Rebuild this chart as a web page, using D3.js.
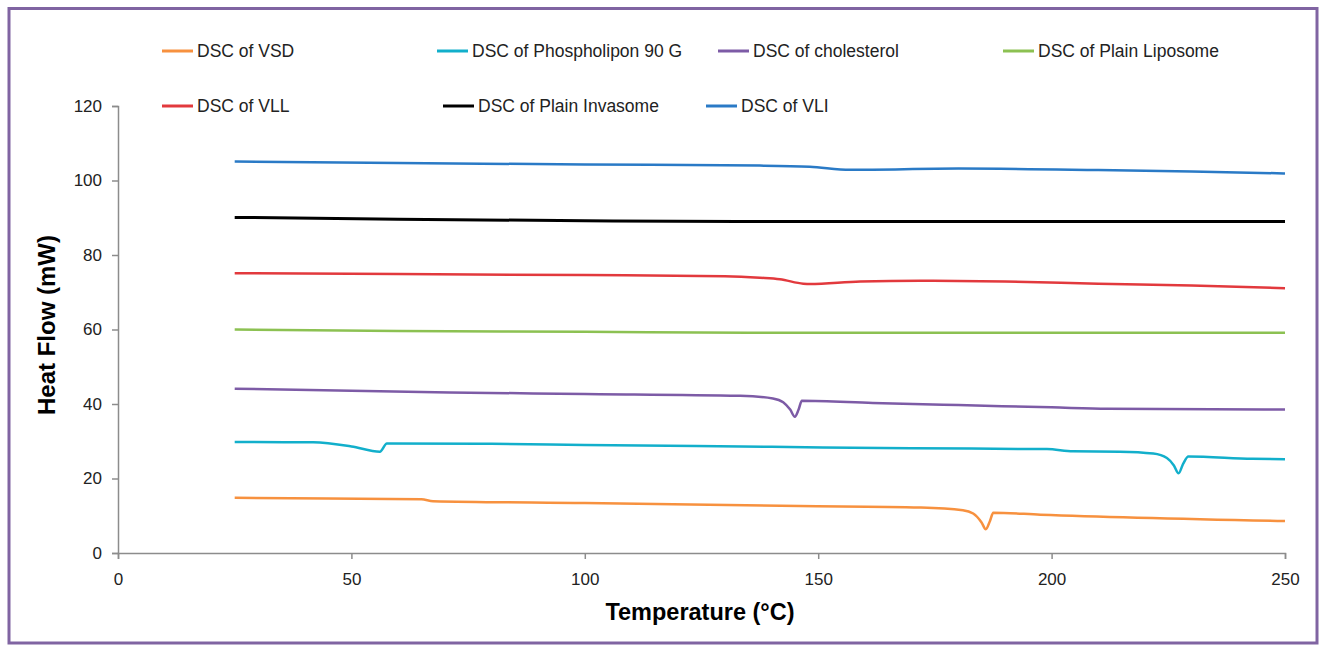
<!DOCTYPE html>
<html><head><meta charset="utf-8">
<script src="https://cdn.jsdelivr.net/npm/d3@7/dist/d3.min.js"></script>
<style>
html,body{margin:0;padding:0;background:#fff;}
svg{display:block;font-family:"Liberation Sans",Arial,sans-serif;}
</style></head>
<body><svg id="chart" width="1319" height="645"></svg>
<script>
// ---- data (temperature °C, heat flow mW) ----
const seriesNames = ["DSC of VSD","DSC of Phospholipon 90 G","DSC of cholesterol","DSC of Plain Liposome","DSC of VLL","DSC of Plain Invasome","DSC of VLI"];
const seriesColors = ["#F7913F","#12AFCB","#7D5BA6","#8CC152","#E2393D","#000000","#2A7AC6"];
const vsd = [[25,14.8],[45,14.6],[65,14.4],[67.5,13.9],[100,13.4],[146,12.6],[172,12.2],[181,11.5],[183.2,10.6],[185,8.2],[185.9,6.4],[186.8,8.6],[187.5,10.8],[197.6,10.3],[250,8.6]];
const phospholipon = [[25,29.8],[41.8,29.7],[50,28.6],[56.1,27.2],[57.6,29.4],[80,29.3],[100,29.0],[140,28.5],[170,28.1],[199,27.9],[204.6,27.3],[214.6,27.2],[221.8,26.7],[224.7,25.5],[226.2,23.5],[227.2,21.4],[228.2,24.0],[229.3,25.9],[243,25.3],[250,25.2]];
const cholesterol = [[25,44.1],[71,43.1],[100,42.7],[133.3,42.2],[140.3,41.5],[142.5,40.5],[144,38.5],[145,36.6],[145.8,38.5],[146.5,40.9],[161.7,40.3],[180,39.7],[200,39.1],[212,38.7],[250,38.5]];
const plainLiposome = [[25,60.0],[60,59.6],[100,59.4],[135,59.1],[250,59.1]];
const vll = [[25,75.1],[60,74.9],[100,74.6],[130,74.3],[137.5,73.9],[141.8,73.5],[146.8,72.3],[148.2,72.2],[159,72.9],[171.8,73.1],[190,72.9],[210,72.3],[230,71.8],[250,71.1]];
const plainInvasome = [[25,90.1],[60,89.6],[100,89.2],[133,89.0],[250,89.0]];
const vli = [[25,105.1],[60,104.7],[100,104.3],[137.5,104.0],[148.2,103.7],[156.8,102.9],[180,103.2],[210,102.8],[230,102.4],[250,101.9]];
const seriesData = [vsd, phospholipon, cholesterol, plainLiposome, vll, plainInvasome, vli];
const xTicks = [0,50,100,150,200,250];
const yTicks = [0,20,40,60,80,100,120];
const xTitle = "Temperature  (°C)";
const yTitle = "Heat Flow (mW)";

// ---- layout ----
const svg = d3.select("#chart");
svg.append("rect").attr("x",0).attr("y",0).attr("width",1319).attr("height",645).attr("fill","#fff");
svg.append("rect").attr("x",9).attr("y",8.5).attr("width",1308).attr("height",634.5)
  .attr("fill","none").attr("stroke","#8064A2").attr("stroke-width",3);

const x = d3.scaleLinear().domain([0,250]).range([118,1285]);
const y = d3.scaleLinear().domain([0,120]).range([553,106]);
const axisColor = "#8C8C8C";

const gx = svg.append("g").attr("transform",`translate(0,${y(0)})`)
  .call(d3.axisBottom(x).tickValues(xTicks).tickSize(6).tickPadding(14));
const gy = svg.append("g").attr("transform",`translate(${x(0)},0)`)
  .call(d3.axisLeft(y).tickValues(yTicks).tickSize(6).tickPadding(10));
[gx,gy].forEach(g=>{
  g.selectAll("path,line").attr("stroke",axisColor).attr("stroke-width",1.5);
  g.selectAll("text").attr("font-size",17).attr("fill","#222").attr("font-family","'Liberation Sans',Arial,sans-serif");
});

svg.append("text").attr("x",700).attr("y",620).attr("text-anchor","middle")
  .attr("font-size",23.5).attr("font-weight","bold").attr("fill","#000").text(xTitle);
svg.append("text").attr("transform","translate(55,325) rotate(-90)").attr("text-anchor","middle")
  .attr("font-size",24).attr("font-weight","bold").attr("fill","#000").text(yTitle);

const line = d3.line().x(d=>x(d[0])).y(d=>y(d[1])).curve(d3.curveMonotoneX);
seriesData.forEach((s,i)=>{
  svg.append("path").datum(s).attr("d",line).attr("fill","none")
    .attr("stroke",seriesColors[i]).attr("stroke-width",i===5?3:2.5)
    .attr("stroke-linejoin","round");
});

// legend
const legendPos = [[162,51],[437,51],[718,51],[1003,51],[162,106],[443,106],[706,106]];
seriesNames.forEach((n,i)=>{
  const [lx,ly] = legendPos[i];
  const g = svg.append("g").attr("transform",`translate(${lx},${ly})`);
  g.append("line").attr("x1",0).attr("x2",31).attr("y1",0).attr("y2",0)
    .attr("stroke",seriesColors[i]).attr("stroke-width",3);
  g.append("text").attr("x",35).attr("y",0).attr("dy","0.35em").attr("font-size",17.5)
    .attr("fill","#222").text(n);
});
</script></body></html>
